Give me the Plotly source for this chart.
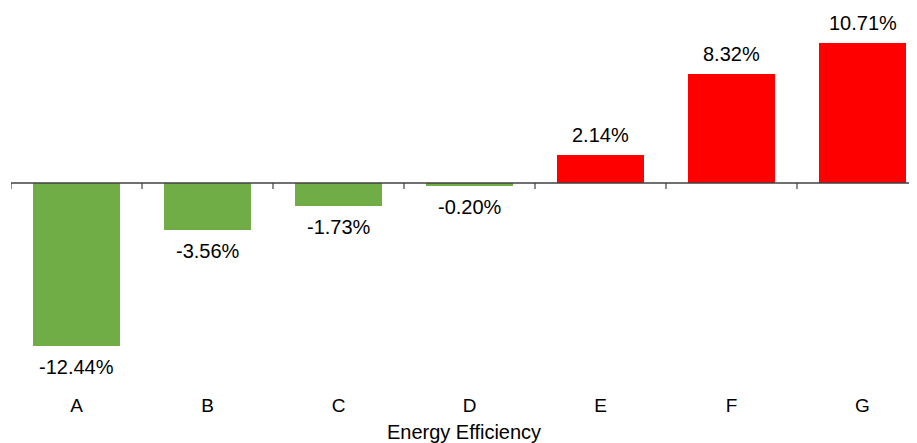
import plotly.graph_objects as go

categories = ["A", "B", "C", "D", "E", "F", "G"]
values = [-12.44, -3.56, -1.73, -0.20, 2.14, 8.32, 10.71]
labels = ["-12.44%", "-3.56%", "-1.73%", "-0.20%", "2.14%", "8.32%", "10.71%"]
neg_color = "#70AD47"
pos_color = "#FF0000"
colors = [pos_color if v > 0 else neg_color for v in values]

FONT = "Liberation Sans, Arial, sans-serif"

fig = go.Figure()
fig.add_trace(go.Bar(
    x=list(range(len(categories))), y=values,
    marker=dict(color=colors, line=dict(width=0)),
    width=0.665, hoverinfo="skip",
))

annotations = []
for i, (v, t) in enumerate(zip(values, labels)):
    annotations.append(dict(
        x=i, y=v, xref="x", yref="y", text=t, showarrow=False,
        yanchor="middle", yshift=20 if v > 0 else -21,
        font=dict(family=FONT, size=20, color="#000000"),
    ))

shapes = [dict(type="line", xref="paper", yref="y", x0=0, x1=1, y0=0, y1=0,
               line=dict(color="#404040", width=1.5), layer="above")]
for i in range(len(categories) + 1):
    shapes.append(dict(type="line", xref="x", yref="y", x0=i - 0.5, x1=i - 0.5,
                       ysizemode="pixel", yanchor=0, y0=0, y1=-6,
                       line=dict(color="#404040", width=1.2), layer="above"))

fig.update_layout(
    width=909, height=435,
    margin=dict(l=3, r=0, t=0, b=51),
    paper_bgcolor="white", plot_bgcolor="white",
    showlegend=False,
    annotations=annotations,
    shapes=shapes,
    bargap=0,
    xaxis=dict(
        tickmode="array", tickvals=list(range(len(categories))), ticktext=categories,
        range=[-0.5, 6.416], showgrid=False, zeroline=False, showline=False,
        ticks="", tickfont=dict(family=FONT, size=19, color="#000000"),
        title=dict(text="Energy Efficiency", font=dict(family=FONT, size=20, color="#000000"),
                   standoff=9),
        fixedrange=True,
    ),
    yaxis=dict(
        range=[-15.99, 13.39], showgrid=False, zeroline=False, showline=False,
        showticklabels=False, ticks="", fixedrange=True,
    ),
)

fig.write_html("out.html")
